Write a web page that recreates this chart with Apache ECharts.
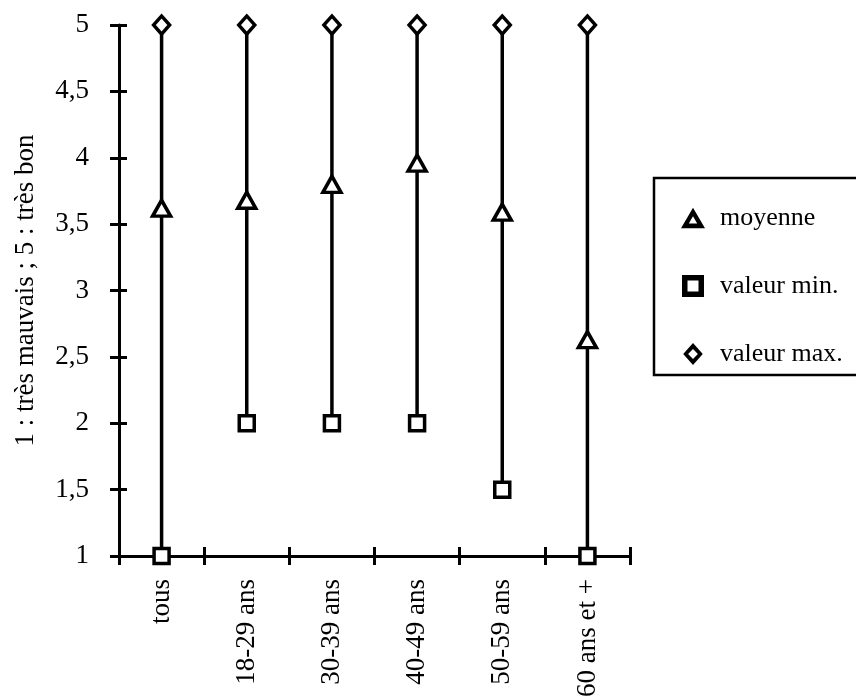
<!DOCTYPE html>
<html><head><meta charset="utf-8">
<script src="https://cdn.jsdelivr.net/npm/echarts@6/dist/echarts.min.js"></script>
<style>html,body{margin:0;padding:0;background:#fff}#c{width:856px;height:700px}</style>
</head><body><div id="c"></div>
<script>
var categories = ['tous', '18-29 ans', '30-39 ans', '40-49 ans', '50-59 ans', '60 ans et +'];
var moyenne = [3.62, 3.68, 3.80, 3.96, 3.59, 2.63];
var valeurMin = [1, 2, 2, 2, 1.5, 1];
var valeurMax = [5, 5, 5, 5, 5, 5];

var font = 'Liberation Serif';
var chart = echarts.init(document.getElementById('c'), null, {renderer: 'canvas'});
var hl = categories.map(function (c, i) { return [i, valeurMin[i], valeurMax[i]]; });
var mk = {color: '#fff', borderColor: '#000', borderWidth: 3.5, opacity: 1};
var lw = 3;
var iconTri = 'path://M10,0L20,17L0,17ZM10,7L6.5,13L13.5,13Z';
var iconSq = 'path://M0,0L16,0L16,16L0,16ZM4,4L4,12L12,12L12,4Z';
var iconDia = 'path://M8,0L16,9L8,18L0,9ZM8,5L4,9L8,13L12,9Z';
var legendIcon = {color: '#000', borderWidth: 0, opacity: 1};
chart.setOption({
  animation: false,
  grid: {left: 119, right: 226, top: 25, bottom: 143},
  legend: {
    orient: 'vertical', left: 654, top: 178,
    padding: [27, 40, 8, 27],
    itemGap: 42, itemWidth: 24, itemHeight: 22,
    borderColor: '#000', borderWidth: 2.5,
    textStyle: {fontFamily: font, fontSize: 26, color: '#000', padding: [0, 0, 0, 10]},
    data: [
      {name: 'moyenne', icon: iconTri, itemStyle: legendIcon},
      {name: 'valeur min.', icon: iconSq, itemStyle: legendIcon},
      {name: 'valeur max.', icon: iconDia, itemStyle: legendIcon}
    ]
  },
  xAxis: [{
    type: 'category', data: categories, boundaryGap: true,
    axisLine: {lineStyle: {color: '#000', width: lw}},
    axisTick: {show: true, length: 9, lineStyle: {color: '#000', width: lw}},
    axisLabel: {rotate: 90, margin: 23, fontFamily: font, fontSize: 27, color: '#000', interval: 0}
  }, {
    type: 'category', data: categories, boundaryGap: true, position: 'bottom',
    axisLine: {show: false},
    axisTick: {show: true, inside: true, length: 9, lineStyle: {color: '#000', width: lw}},
    axisLabel: {show: false}
  }],
  yAxis: [{
    type: 'value', min: 1, max: 5, interval: 0.5,
    name: '1 : très mauvais ; 5 : très bon', nameLocation: 'middle', nameGap: 80, nameRotate: 90,
    nameTextStyle: {fontFamily: font, fontSize: 27, color: '#000'},
    axisLine: {show: true, lineStyle: {color: '#000', width: lw}},
    axisTick: {show: true, length: 9, lineStyle: {color: '#000', width: lw}},
    splitLine: {show: false},
    axisLabel: {margin: 30, fontFamily: font, fontSize: 27, color: '#000',
      formatter: function (v) { return String(v).replace('.', ','); }}
  }, {
    type: 'value', min: 1, max: 5, interval: 0.5, position: 'left',
    axisLine: {show: false},
    axisTick: {show: true, inside: true, length: 8, lineStyle: {color: '#000', width: lw}},
    splitLine: {show: false}, axisLabel: {show: false}
  }],
  series: [{
    type: 'custom', name: 'hl', data: hl, encode: {x: 0, y: [1, 2]}, z: 1,
    renderItem: function (params, api) {
      var p1 = api.coord([api.value(0), api.value(1)]);
      var p2 = api.coord([api.value(0), api.value(2)]);
      return {type: 'line', shape: {x1: p1[0], y1: p1[1], x2: p2[0], y2: p2[1]},
        style: {stroke: '#000', lineWidth: 3.5}};
    }
  }, {
    type: 'scatter', name: 'moyenne', data: moyenne, symbol: 'triangle', symbolSize: [18, 16],
    itemStyle: mk, z: 3
  }, {
    type: 'scatter', name: 'valeur min.', data: valeurMin, symbol: 'rect', symbolSize: 15,
    itemStyle: mk, z: 3
  }, {
    type: 'scatter', name: 'valeur max.', data: valeurMax, symbol: 'diamond', symbolSize: [16, 18],
    itemStyle: mk, z: 3
  }]
});
</script></body></html>
